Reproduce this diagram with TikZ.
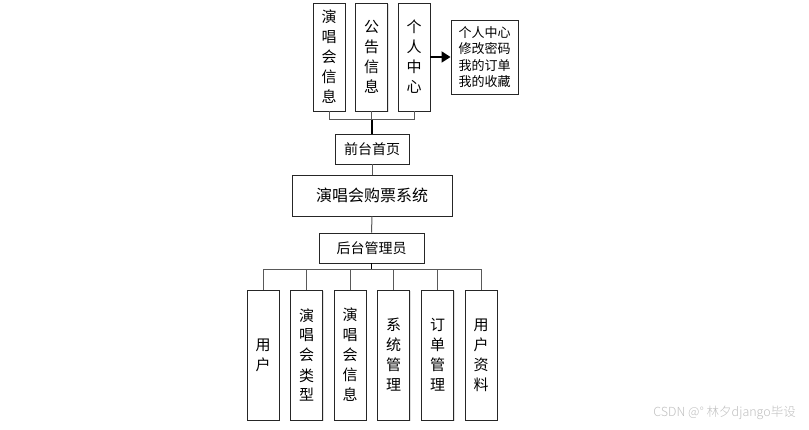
\documentclass[tikz,border=0pt]{standalone}
\usepackage{fontspec}
\newfontfamily\cjk{Noto Sans CJK SC}
\newfontfamily\wmfont{Noto Sans CJK SC Light}
\usetikzlibrary{arrows.meta,shadows}
\begin{document}
\begin{tikzpicture}[x=1pt,y=-1pt,
  box/.style={draw=black!85, line width=0.9pt, fill=white, inner sep=0pt, align=center,
    drop shadow={shadow xshift=1.2pt, shadow yshift=-1.2pt, fill=black!12, opacity=1}},
  vbox/.style={box, minimum width=32pt, font=\cjk\fontsize{15}{20}\selectfont},
  hbox/.style={box, font=\cjk\fontsize{14}{16}\selectfont},
  branch/.style={draw=black!65, line width=1pt},
  trunk/.style={draw=black, line width=1.8pt}]
\useasboundingbox (0,0) rectangle (809,430);
% top
\node[vbox, minimum height=108pt] (t1) at (329,57) {演\\唱\\会\\信\\息};
\node[vbox, minimum height=108pt] (t2) at (371.5,57) {公\\告\\信\\息};
\node[vbox, minimum height=108pt] (t3) at (414,57) {个\\人\\中\\心};
\node[box, minimum width=67pt, minimum height=74pt, font=\cjk\fontsize{13}{16.5}\selectfont] (r) at (484.5,57) {个人中心\\修改密码\\我的订单\\我的收藏};
\node[hbox, minimum width=74pt, minimum height=30pt] (home) at (372,149) {前台首页};
\node[hbox, minimum width=160pt, minimum height=41pt, font=\cjk\fontsize{16}{18}\selectfont] (sys) at (372,195.5) {演唱会购票系统};
\node[hbox, minimum width=105pt, minimum height=30pt] (admin) at (371.5,248) {后台管理员};
% bottom
\node[vbox, minimum height=130pt] (b1) at (263,355) {用\\户};
\node[vbox, minimum height=130pt] (b2) at (306.5,355) {演\\唱\\会\\类\\型};
\node[vbox, minimum height=130pt] (b3) at (350,355) {演\\唱\\会\\信\\息};
\node[vbox, minimum height=130pt] (b4) at (393.5,355) {系\\统\\管\\理};
\node[vbox, minimum height=130pt] (b5) at (437.5,355) {订\\单\\管\\理};
\node[vbox, minimum height=130pt] (b6) at (481,355) {用\\户\\资\\料};
% connectors top
\coordinate (tj) at (372,120);
\draw[branch] (t1.south) |- (t3.south |- tj) -- (t3.south);
\draw[branch] (t2.south) -- (t2.south |- tj);
\draw[trunk] (tj) -- (home.north);
\draw[trunk, -{Triangle[length=9pt,width=11pt]}] (t3.east) -- (r.west);
\draw[branch] (home.south) -- (sys.north);
\draw[branch] (sys.south) -- (admin.north);
% connectors bottom
\coordinate (bj) at (371.5,270);
\draw[trunk] (admin.south) -- (bj);
\draw[branch] (b1.north) |- (b6.north |- bj) -- (b6.north);
\foreach \n in {b2,b3,b4,b5} \draw[branch] (\n.north) -- (\n.north |- bj);
% watermark
\node[text=black!25, font=\wmfont\fontsize{12.5}{14}\selectfont, anchor=east, inner sep=0pt] (wm) at (796,413) {CSDN @° 林夕django毕设};
\end{tikzpicture}
\end{document}
